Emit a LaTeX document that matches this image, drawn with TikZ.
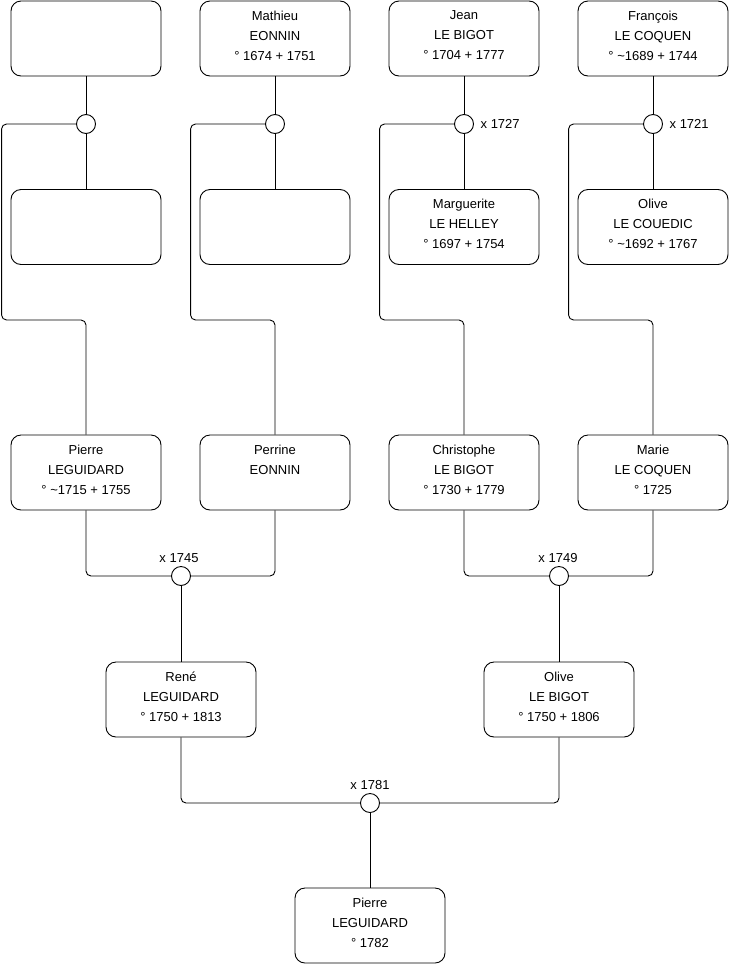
\documentclass[tikz,border=0pt]{standalone}
\usepackage{fontspec}
\setmainfont{Liberation Sans}
\tikzset{
  personbox/.style={draw, rounded corners=10pt, minimum width=150pt, minimum height=75pt, inner sep=0pt, line width=0.9pt},
  persontext/.style={anchor=north, yshift=-10pt, inner sep=0pt, align=center, font=\fontsize{13}{20}\selectfont, execute at begin node=\strut},
  union/.style={circle, draw, fill=white, minimum size=19pt, inner sep=0pt, line width=0.9pt},
  marriage/.style={font=\fontsize{13}{15}\selectfont, inner sep=1pt},
  link/.style={line width=0.9pt, rounded corners=5pt},
}
\begin{document}
\begin{tikzpicture}[x=1pt, y=-1pt]
    \useasboundingbox (0,0) rectangle (740,975);

    % Great-grandparents
    \node[personbox] (gp1) at (86,38.5) {};
    \node[personbox, label={[persontext]north:{Mathieu\\EONNIN\\° 1674 + 1751}}] (gp2) at (275,38.5) {};
    \node[personbox, label={[persontext]north:{Jean\\LE BIGOT\\° 1704 + 1777}}] (gp3) at (464,38.5) {};
    \node[personbox, label={[persontext]north:{François\\LE COQUEN\\° \textasciitilde1689 + 1744}}] (gp4) at (653,38.5) {};

    \node[personbox] (gm1) at (86,227) {};
    \node[personbox] (gm2) at (275,227) {};
    \node[personbox, label={[persontext]north:{Marguerite\\LE HELLEY\\° 1697 + 1754}}] (gm3) at (464,227) {};
    \node[personbox, label={[persontext]north:{Olive\\LE COUEDIC\\° \textasciitilde1692 + 1767}}] (gm4) at (653,227) {};

    \node[union] (u1) at (86,124) {};
    \node[union] (u2) at (275,124) {};
    \node[union, label={[marriage, label distance=5.5pt]east:x 1727}] (u3) at (464,124) {};
    \node[union, label={[marriage, label distance=5.5pt]east:x 1721}] (u4) at (653,124) {};

    % Grandparents
    \node[personbox, label={[persontext]north:{Pierre\\LEGUIDARD\\° \textasciitilde1715 + 1755}}] (p1) at (86,472.5) {};
    \node[personbox, label={[persontext]north:{Perrine\\EONNIN}}] (p2) at (275,472.5) {};
    \node[personbox, label={[persontext]north:{Christophe\\LE BIGOT\\° 1730 + 1779}}] (p3) at (464,472.5) {};
    \node[personbox, label={[persontext]north:{Marie\\LE COQUEN\\° 1725}}] (p4) at (653,472.5) {};

    \node[union, label={[marriage, label distance=2pt, xshift=-2pt]north:x 1745}] (v1) at (181,576) {};
    \node[union, label={[marriage, label distance=2pt, xshift=-1pt]north:x 1749}] (v2) at (559,576) {};

    % Parents
    \node[personbox, label={[persontext]north:{René\\LEGUIDARD\\° 1750 + 1813}}] (r1) at (181,699.5) {};
    \node[personbox, label={[persontext]north:{Olive\\LE BIGOT\\° 1750 + 1806}}] (r2) at (559,699.5) {};

    \node[union, label={[marriage, label distance=2pt]north:x 1781}] (w) at (370,803) {};

    % Child
    \node[personbox, label={[persontext]north:{Pierre\\LEGUIDARD\\° 1782}}] (d) at (370,925.5) {};

    % Top couples and their child lines
    \foreach \i in {1,...,4} {
        \draw[link] (gp\i) -- (u\i);
        \draw[link] (u\i) -- (gm\i);
        \draw[link] (u\i.west) -- ++(-74.5,0) -- ++(0,196) -| (p\i.north);
    }

    % Lower couples
    \draw[link] (p1.south) |- (v1.west);
    \draw[link] (p2.south) |- (v1.east);
    \draw[link] (v1) -- (r1);
    \draw[link] (p3.south) |- (v2.west);
    \draw[link] (p4.south) |- (v2.east);
    \draw[link] (v2) -- (r2);
    \draw[link] (r1.south) |- (w.west);
    \draw[link] (r2.south) |- (w.east);
    \draw[link] (w) -- (d);
\end{tikzpicture}
\end{document}
